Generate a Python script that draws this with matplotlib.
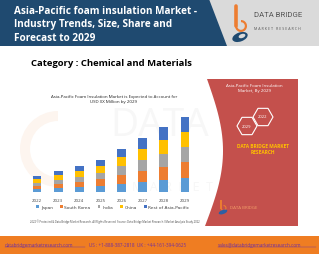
import matplotlib
matplotlib.use("Agg")
import matplotlib.pyplot as plt
from matplotlib.patches import Polygon, Rectangle, RegularPolygon, Wedge, Ellipse
import numpy as np

years = ["2022", "2023", "2024", "2025", "2026", "2027", "2028", "2029"]
japan = [3.0, 4.0, 5.0, 6.2, 8.5, 10.5, 12.5, 14.0]
south_korea = [3.2, 4.2, 5.2, 6.5, 8.7, 11.0, 13.0, 16.0]
india = [3.2, 4.2, 5.3, 6.5, 8.7, 11.0, 13.0, 15.0]
china = [3.2, 4.3, 5.3, 6.5, 8.7, 11.0, 13.2, 15.0]
rest_apac = [3.4, 4.3, 5.2, 6.3, 8.4, 10.5, 13.3, 15.0]
series_names = ["Japan", "South Korea", "India", "China", "Rest of Asia-Pacific"]
series_colors = ["#5b9bd5", "#ed7d31", "#a5a5a5", "#ffc000", "#4472c4"]

W, H = 319, 255
fig = plt.figure(figsize=(W / 100, H / 100), dpi=100)
fig.patch.set_facecolor("white")

# background canvas in pixel coordinates
bg = fig.add_axes([0, 0, 1, 1])
bg.set_xlim(0, W)
bg.set_ylim(H, 0)
bg.axis("off")

font = ["Open Sans", "DejaVu Sans"]

# header
bg.add_patch(Polygon([(0, 0), (W, 0), (W, 47), (0, 47)], closed=True, fc="#dadada", ec="none"))
bg.add_patch(Polygon([(0, 0), (209, 0), (227, 47), (0, 47)], closed=True, fc="#1f4a70", ec="none"))
bg.text(14, 25, "Asia-Pacific foam insulation Market -\nIndustry Trends, Size, Share and\nForecast to 2029",
        color="white", fontsize=7.2, fontweight="bold", family=font, va="center", ha="left",
        linespacing=1.35)

# header logo
bg.plot([236, 236], [7, 27], color="#ed7d31", lw=2.6, solid_capstyle="round")
bg.add_patch(Wedge((241, 27), 6, -90, 180, width=2.2, fc="#ed7d31", ec="none"))
bg.add_patch(Ellipse((240, 38), 16, 9, angle=-20, fc="#1f4a70", ec="none"))
bg.add_patch(Ellipse((242, 37), 7, 4, angle=-20, fc="#dadada", ec="none"))
bg.text(254, 15, "DATA BRIDGE", color="#555555", fontsize=5.6, family=["Roboto", "DejaVu Sans"],
        va="center", ha="left")
bg.text(254, 29, "M A R K E T   R E S E A R C H", color="#555555", fontsize=2.6, family=font,
        va="center", ha="left")

# category line
bg.text(31, 64, "Category : Chemical and Materials", color="black", fontsize=6.8, fontweight="bold",
        family=font, va="center", ha="left")

# faint watermark behind the chart
bg.text(110, 126, "DATA", color="#f7f7f7", fontsize=28, family=font, va="center", ha="left")
bg.text(132, 188, "M  A  R  K  E  T", color="#f7f7f7", fontsize=9, family=font, va="center", ha="left")
bg.add_patch(Wedge((58, 150), 38, 90, 270, width=10, fc="#fdf5ef", ec="none"))

# red side panel with curved left edge
t = np.linspace(0, 1, 40)
left_x = 205 + 17 * np.sin(np.pi * t) + 2 * (1 - t)
left_y = 80 + 147 * t
panel = list(zip(left_x, left_y)) + [(298, 227), (298, 80)]
bg.add_patch(Polygon(panel, closed=True, fc="#c4504c", ec="none"))
bg.text(254, 88.5, "Asia-Pacific Foam Insulation\nMarket, By 2029", color="white", fontsize=3.2,
        family=font, ha="center", va="center", linespacing=1.3)
bg.add_patch(RegularPolygon((263, 118), 6, radius=10, orientation=np.pi / 6, fill=False, ec="white", lw=0.8))
bg.add_patch(RegularPolygon((247, 127), 6, radius=10, orientation=np.pi / 6, fill=False, ec="white", lw=0.8))
bg.text(263, 117, "2022", color="white", fontsize=3.0, family=font, ha="center", va="center")
bg.text(247, 127, "2029", color="white", fontsize=3.0, family=font, ha="center", va="center")
bg.text(263, 149.5, "DATA BRIDGE MARKET\nRESEARCH", color="#ffc000", fontsize=3.5, fontweight="bold",
        family=font, ha="center", va="center", linespacing=1.3)
bg.plot([221, 221], [202, 209], color="#ed7d31", lw=1.4)
bg.add_patch(Wedge((223.5, 209), 3, -90, 180, width=1.1, fc="#ed7d31", ec="none"))
bg.add_patch(Ellipse((223, 213), 9, 4, angle=-20, fc="#2e5fa3", ec="none"))
bg.text(230, 208, "DATA BRIDGE", color="#f4a06a", fontsize=3.2, family=font, ha="left", va="center")

# chart title
bg.text(114, 99.5, "Asia-Pacific Foam Insulation Market is Expected to Account for\nUSD XX Million by 2029",
        color="#222222", fontsize=3.2, family=font, ha="center", va="center", linespacing=1.35)

# footnotes
bg.text(30, 222, "2022 \u00a9 Protected & Data Bridge Market Research. All Rights Reserved", color="#444444",
        fontsize=1.9, family=font, ha="left", va="center")
bg.text(117, 222, "Source: Data Bridge Market Research / Market Analysis Study 2022", color="#444444",
        fontsize=1.9, family=font, ha="left", va="center")

# footer
bg.add_patch(Rectangle((0, 237), W, H - 237, fc="#ef7d22", ec="none"))
foot = dict(color="#7030a0", fontsize=3.3, family=font, va="center")
bg.text(5, 246, "databridgemarketresearch.com", ha="left", **foot)
bg.plot([5, 85], [248.3, 248.3], color="#7030a0", lw=0.3)
bg.text(89, 246, "US : +1-888-387-2818  UK : +44-161-394-0625", ha="left", **foot)
bg.text(218, 246, "sales@databridgemarketresearch.com", ha="left", **foot)
bg.plot([218, 316], [248.3, 248.3], color="#7030a0", lw=0.3)

# stacked bar chart
ax = fig.add_axes([26.5 / W, (H - 193) / H, 169 / W, 80 / H])
ax.patch.set_alpha(0)
x = np.arange(len(years))
bottom = np.zeros(len(years))
handles = []
for name, vals, col in zip(series_names, [japan, south_korea, india, china, rest_apac], series_colors):
    b = ax.bar(x, vals, width=0.42, bottom=bottom, color=col, label=name)
    handles.append(b)
    bottom += np.array(vals)
ax.set_xlim(-0.5, len(years) - 0.5)
ax.set_ylim(0, bottom.max() * 80 / 75)
ax.set_xticks(x)
ax.set_xticklabels(years, fontsize=3.2, color="#444444", family=font)
ax.tick_params(axis="x", length=0, pad=4)
ax.set_yticks([])
for s in ax.spines.values():
    s.set_visible(False)
ax.legend(handles=handles, ncol=5, loc="center", bbox_to_anchor=(113 / W, (H - 208) / H),
          bbox_transform=fig.transFigure, frameon=False, fontsize=3.2, handlelength=0.6,
          handleheight=0.6, handletextpad=0.4, columnspacing=1.6, labelcolor="#444444")

fig.savefig("out.png", dpi=100, facecolor="white")
